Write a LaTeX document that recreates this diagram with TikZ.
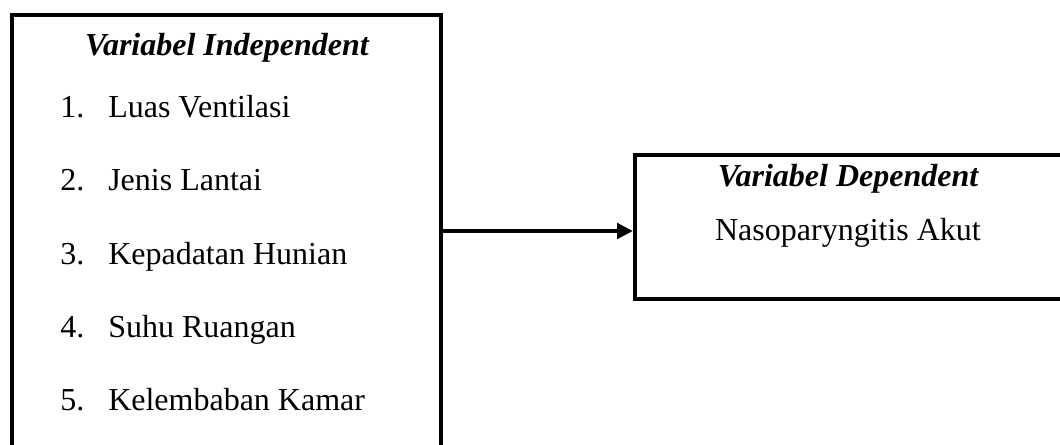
\documentclass[tikz,border=0pt]{standalone}
\usepackage{fontspec}
\setmainfont{Liberation Serif}
\usetikzlibrary{arrows.meta}
\begin{document}
\begin{tikzpicture}[x=0.75pt,y=-0.75pt,
  box/.style={draw=black,line width=3pt,fill=none,inner sep=0pt},
  txt/.style={inner sep=0pt,font=\fontsize{24}{28}\selectfont},
  ttl/.style={inner sep=0pt,font=\fontsize{24}{28}\selectfont\bfseries\itshape},
  conn/.style={line width=3pt,-{Triangle[length=12pt,width=11.5pt]}}]
\useasboundingbox (0,0) rectangle (1060,444);
\clip (0,0) rectangle (1060,444);
\node[box,minimum width=321.75pt,minimum height=345pt] (L) at (226.5,245) {};
\node[box,minimum width=320.25pt,minimum height=108pt] (R) at (848.5,227) {};
\node[ttl,anchor=base] (t1) at (227,55) {Variabel Independent};
\node[txt,anchor=base west] (n1) at (60,117) {1.};
\node[txt,anchor=base west] (i1) at (108,117) {Luas Ventilasi};
\node[txt,anchor=base west] (n2) at (60,190.5) {2.};
\node[txt,anchor=base west] (i2) at (108,190.5) {Jenis Lantai};
\node[txt,anchor=base west] (n3) at (60,264) {3.};
\node[txt,anchor=base west] (i3) at (108,264) {Kepadatan Hunian};
\node[txt,anchor=base west] (n4) at (60,337) {4.};
\node[txt,anchor=base west] (i4) at (108,337) {Suhu Ruangan};
\node[txt,anchor=base west] (n5) at (60,410) {5.};
\node[txt,anchor=base west] (i5) at (108,410) {Kelembaban Kamar};
\node[ttl,anchor=base] (t2) at (848,186) {Variabel Dependent};
\node[txt,anchor=base] (d1) at (848,240) {Nasoparyngitis Akut};
\draw[conn] (L.east |- 0,231) -- (R.west |- 0,231);
\end{tikzpicture}
\end{document}
